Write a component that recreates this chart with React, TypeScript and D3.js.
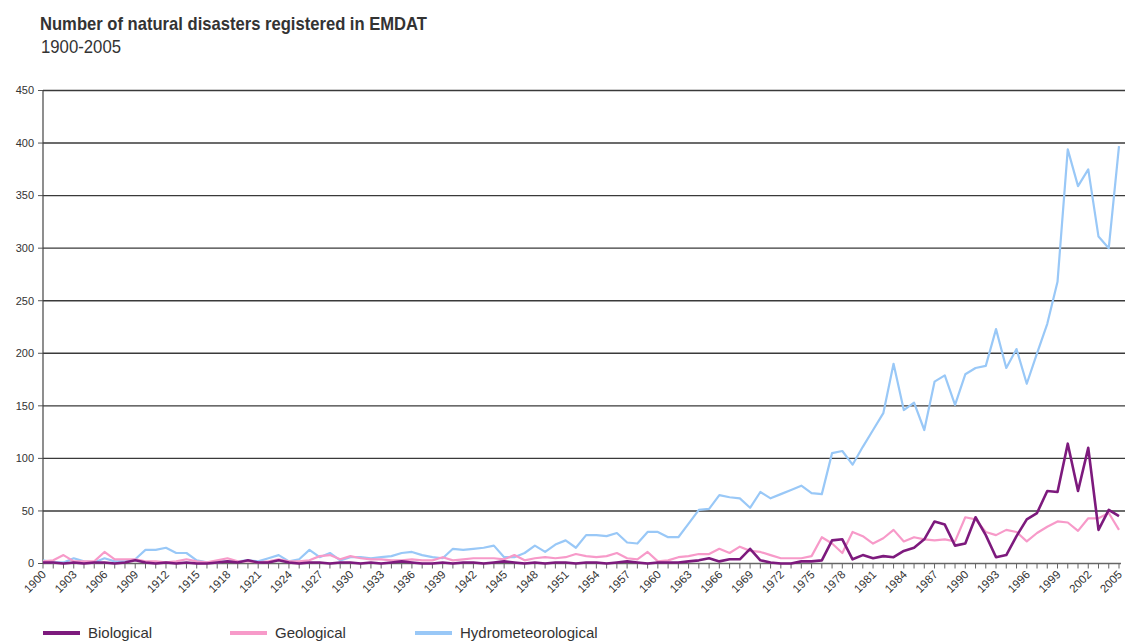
import React from 'react';
import * as d3 from 'd3';

// values, 1900..2005
const years: number[] = d3.range(1900, 2006);

const biological: number[] = [
  1, 1, 0, 1, 0, 1, 1, 0, 1, 3, 1, 0, 1, 0, 1, 0, 0, 1, 2, 1,
  3, 1, 1, 3, 1, 0, 1, 1, 0, 1, 1, 0, 1, 0, 1, 2, 1, 0, 0, 1,
  0, 1, 1, 0, 1, 2, 1, 0, 1, 0, 1, 1, 0, 1, 1, 0, 1, 2, 1, 0,
  1, 1, 1, 2, 3, 5, 2, 4, 4, 14, 3, 1, 0, 0, 2, 2, 3, 22, 23, 4,
  8, 5, 7, 6, 12, 15, 23, 40, 37, 17, 19, 44, 27, 6, 8, 26, 42, 48, 69, 68,
  114, 69, 110, 32, 51, 45,
];

const geological: number[] = [
  2, 3, 8, 2, 2, 2, 11, 4, 4, 4, 2, 2, 1, 2, 4, 2, 1, 3, 5, 2,
  2, 1, 2, 4, 2, 2, 3, 7, 8, 4, 7, 5, 4, 4, 3, 3, 4, 3, 3, 6,
  3, 4, 5, 5, 5, 4, 8, 3, 5, 6, 5, 6, 9, 7, 6, 7, 10, 5, 4, 11,
  2, 3, 6, 7, 9, 9, 14, 10, 16, 12, 11, 8, 5, 5, 5, 7, 25, 19, 10, 30,
  26, 19, 24, 32, 21, 25, 23, 22, 23, 21, 44, 42, 30, 27, 32, 30, 21, 29, 35, 40,
  39, 31, 43, 43, 48, 32,
];

const hydrometeorological: number[] = [
  3, 1, 1, 5, 2, 1, 5, 2, 2, 4, 13, 13, 15, 10, 10, 3, 1, 1, 2, 2,
  3, 2, 5, 8, 2, 4, 13, 6, 10, 3, 6, 6, 5, 6, 7, 10, 11, 8, 6, 5,
  14, 13, 14, 15, 17, 6, 6, 10, 17, 11, 18, 22, 15, 27, 27, 26, 29, 20, 19, 30,
  30, 25, 25, 38, 51, 52, 65, 63, 62, 53, 68, 62, 66, 70, 74, 67, 66, 105, 107, 94,
  111, 127, 143, 190, 146, 153, 127, 173, 179, 151, 180, 186, 188, 223, 186, 204, 171, 200, 228, 268,
  394, 359, 375, 311, 300, 397,
];

const yTicks: number[] = d3.range(0, 451, 50);
const xLabelYears: number[] = years.filter((y) => (y - 1900) % 3 === 0);

const seriesNames: string[] = ['Biological', 'Geological', 'Hydrometeorological'];
const seriesColors: string[] = ['#7d1a7d', '#f79ac9', '#99c8f7'];

const W = 1126;
const H = 644;
const font = '"Liberation Sans", Arial, sans-serif';

export default function App() {
  const x = d3.scaleLinear().domain([1900, 2005]).range([43, 1119]);
  const y = d3.scaleLinear().domain([0, 450]).range([563.5, 90.5]);

  const line = d3
    .line<number>()
    .x((_, i) => x(years[i]))
    .y((d) => y(d));

  const series = [biological, geological, hydrometeorological];
  const widths = [2.6, 2.2, 2.2];
  const drawOrder = [2, 1, 0];

  return (
    <svg
      width={W}
      height={H}
      style={{ position: 'absolute', left: 0, top: 0, background: '#fff' }}
      fontFamily={font}
    >
      <text x={40} y={30} fontSize={19} fontWeight="bold" fill="#333" textLength={387} lengthAdjust="spacingAndGlyphs">
        Number of natural disasters registered in EMDAT
      </text>
      <text x={41} y={53} fontSize={19} fill="#333" textLength={80} lengthAdjust="spacingAndGlyphs">
        1900-2005
      </text>

      {/* gridlines + y labels */}
      {yTicks.map((t) => (
        <g key={t}>
          {t > 0 && <line x1={43} x2={1125} y1={y(t)} y2={y(t)} stroke="#3a3a3a" strokeWidth={1.4} />}
          <line x1={38} x2={43} y1={y(t)} y2={y(t)} stroke="#555" strokeWidth={1} />
          <text x={34} y={y(t)} dy="0.35em" textAnchor="end" fontSize={11} fill="#333">
            {t}
          </text>
        </g>
      ))}
      <line x1={43} x2={43} y1={y(450)} y2={y(0)} stroke="#444" strokeWidth={1.2} />

      {/* x axis */}
      <line x1={43} x2={1121} y1={y(0)} y2={y(0)} stroke="#666" strokeWidth={1.4} />
      {years.map((yr) => (
        <line key={yr} x1={x(yr)} x2={x(yr)} y1={y(0)} y2={y(0) + 5} stroke="#666" strokeWidth={1} />
      ))}
      {xLabelYears.map((yr) => (
        <text
          key={yr}
          transform={`translate(${x(yr) - 8},${y(0) + 18}) rotate(-45)`}
          textAnchor="middle"
          dy="0.35em"
          fontSize={11.5}
          fill="#333"
        >
          {yr}
        </text>
      ))}

      {/* series */}
      {drawOrder.map((i) => (
        <path
          key={seriesNames[i]}
          d={line(series[i]) || ''}
          fill="none"
          stroke={seriesColors[i]}
          strokeWidth={widths[i]}
          strokeLinejoin="round"
        />
      ))}

      {/* legend */}
      {seriesNames.map((name, i) => {
        const lx = [43, 230, 415][i];
        return (
          <g key={name}>
            <line x1={lx} x2={lx + 37} y1={633} y2={633} stroke={seriesColors[i]} strokeWidth={4} />
            <text x={lx + 45} y={633} dy="0.36em" fontSize={15} fill="#333">
              {name}
            </text>
          </g>
        );
      })}
    </svg>
  );
}
